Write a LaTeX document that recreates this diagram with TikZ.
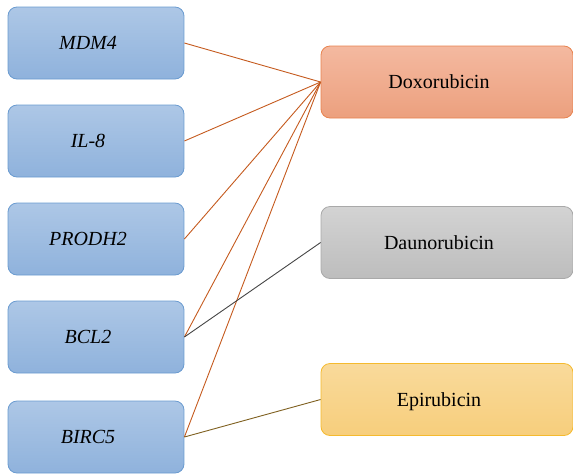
\documentclass[tikz,border=0pt]{standalone}
\usepackage{fontspec}
\setmainfont{Liberation Serif}
\definecolor{genetop}{HTML}{ADC7E6}
\definecolor{genebot}{HTML}{8FB2DC}
\definecolor{generim}{HTML}{6A9BD0}
\definecolor{doxotop}{HTML}{F4B9A0}
\definecolor{doxobot}{HTML}{ECA07E}
\definecolor{doxorim}{HTML}{E8834F}
\definecolor{daunotop}{HTML}{D3D3D3}
\definecolor{daunobot}{HTML}{BDBDBD}
\definecolor{daunorim}{HTML}{A9A9A9}
\definecolor{epitop}{HTML}{F9DA9B}
\definecolor{epibot}{HTML}{F7CE7C}
\definecolor{epirim}{HTML}{F5BA2E}
\definecolor{doxoline}{HTML}{C55A1E}
\definecolor{daunoline}{HTML}{454545}
\definecolor{epiline}{HTML}{7F6020}
\begin{document}
\begin{tikzpicture}
[x=1pt,y=-1pt,
  genedecorate/.style={shape=rectangle,rounded corners=9pt,draw=generim,
    line width=0.8pt,top color=genetop,bottom color=genebot,
    minimum width=176pt,minimum height=72pt,text depth=0pt,
    execute at end node={\hspace*{16pt}},
    font=\rmfamily\fontsize{20}{24}\selectfont\itshape},%
  drugdecorate/.style={shape=rectangle,rounded corners=9pt,line width=0.8pt,
    minimum width=252pt,minimum height=72pt,text depth=0pt,
    execute at end node={\hspace*{16pt}},
    font=\rmfamily\fontsize{20}{24}\selectfont},%
  linedecorate/.style={-,line width=0.9pt}]
\useasboundingbox (0,0) rectangle (573,475);
%% genes
\foreach \nodename/\label/\y in {
  mdm/MDM4/43, il/IL-8/141, prodh/PRODH2/239, bcl/BCL2/337, birc/BIRC5/437}
{
  \node (\nodename) at (96,\y) [genedecorate] {\label};
}
%% drugs
\node (doxo) at (447,82) [drugdecorate,draw=doxorim,top color=doxotop,
  bottom color=doxobot] {Doxorubicin};
\node (dauno) at (447,242.5) [drugdecorate,draw=daunorim,top color=daunotop,
  bottom color=daunobot] {Daunorubicin};
\node (epi) at (447,399.5) [drugdecorate,draw=epirim,top color=epitop,
  bottom color=epibot] {Epirubicin};
%% links
\foreach \startnode/\endnode/\col in {mdm/doxo/doxoline, il/doxo/doxoline,
  prodh/doxo/doxoline, bcl/doxo/doxoline, birc/doxo/doxoline,
  bcl/dauno/daunoline, birc/epi/epiline}
{
  \draw[linedecorate,draw=\col] (\startnode.east) -- (\endnode.west);
}
\end{tikzpicture}
\end{document}
